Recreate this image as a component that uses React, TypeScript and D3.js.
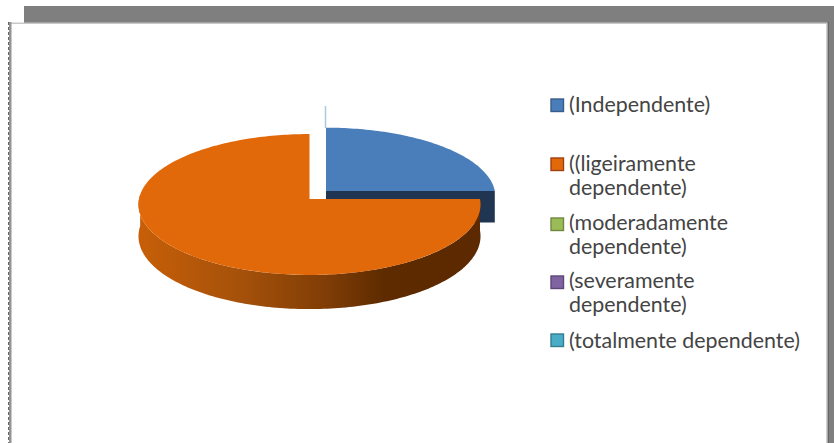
import React from "react";
import * as d3 from "d3";

const categories = [
  ["(Independente)"],
  ["((ligeiramente", "dependente)"],
  ["(moderadamente", "dependente)"],
  ["(severamente", "dependente)"],
  ["(totalmente dependente)"],
];
const shares = [25, 75, 0, 0, 0];
const fills = ["#4A7EBB", "#E2690A", "#9BBB59", "#8064A2", "#4BACC6"];
const borders = ["#385D8A", "#A0400F", "#71893F", "#5C4776", "#357D91"];
const wallFill = "#1F3552";
const legendFirstBaselines = [112, 171, 230, 288, 348];
const legendBoxTops = [99, 158, 218, 276, 334];

const W = 834;
const H = 443;

// The disc is tilted away from the viewer, so rear points shrink a little.
const apex = { x: 309.5, y: 199 };
const radiusX = 170.5;
const radiusY = 70;
const tilt = 0.078;
const wallDepth = 31.5;
const lift: Record<number, { dx: number; dy: number; scaleX: number; scaleY: number }> = {
  0: { dx: 16.5, dy: -8, scaleX: 0.99, scaleY: 0.975 },
};
const noLift = { dx: 0, dy: 0, scaleX: 1, scaleY: 1 };

const slices = d3.pie<number>().sort(null).startAngle(0).endAngle(2 * Math.PI)(shares);

function rim(angle: number, sliceIndex: number, drop = 0): [number, number] {
  const o = lift[sliceIndex] ?? noLift;
  const u = Math.sin(angle);
  const v = Math.cos(angle);
  const w = 1 + tilt * v;
  const x = apex.x + o.dx + (radiusX * o.scaleX * u) / w;
  const y = apex.y + o.dy - (radiusY * o.scaleY * v) / w + drop / w;
  return [x, y];
}

const outline = d3.line<[number, number]>();

function sweep(a0: number, a1: number, sliceIndex: number, drop = 0): [number, number][] {
  const steps = Math.max(2, Math.ceil(Math.abs(a1 - a0) / 0.02));
  return d3.range(steps + 1).map((i) => rim(a0 + ((a1 - a0) * i) / steps, sliceIndex, drop));
}

function topFace(a0: number, a1: number, i: number): string {
  const o = lift[i] ?? noLift;
  const centre: [number, number] = [apex.x + o.dx, apex.y + o.dy];
  return outline([centre, ...sweep(a0, a1, i)]) + "Z";
}

// Outer wall along the part of the rim that faces the viewer.
function rimWall(a0: number, a1: number, i: number): string {
  return outline([...sweep(a0, a1, i), ...sweep(a1, a0, i, wallDepth)]) + "Z";
}

// Cut face along the radius at the given angle.
function cutWall(angle: number, i: number): string {
  const o = lift[i] ?? noLift;
  const cx = apex.x + o.dx;
  const cy = apex.y + o.dy;
  const edge = rim(angle, i);
  const low = rim(angle, i, wallDepth);
  return outline([[cx, cy], edge, low, [cx, cy + wallDepth]]) + "Z";
}

const [blue, orange] = slices;

export default function App() {
  return (
    <svg
      width={W}
      height={H}
      viewBox={`0 0 ${W} ${H}`}
      style={{ position: "fixed", left: 0, top: 0, background: "#fff", display: "block" }}
    >
      <defs>
        <linearGradient id="wallShade" gradientUnits="userSpaceOnUse" x1={138} x2={480} y1={0} y2={0}>
          <stop offset="0" stopColor="#C75F08" />
          <stop offset="0.3" stopColor="#A5510A" />
          <stop offset="0.55" stopColor="#803D06" />
          <stop offset="0.72" stopColor="#5E2B00" />
          <stop offset="1" stopColor="#5C2900" />
        </linearGradient>
      </defs>

      {/* frame behind the chart panel */}
      <rect x={24} y={6} width={810} height={17} fill="#7F7F7F" />
      <rect x={827} y={6} width={7} height={437} fill="#7F7F7F" />
      <rect x={826} y={23} width={1.5} height={420} fill="#D2D2D2" />
      <rect x={828} y={22} width={1} height={421} fill="#666" />
      <rect x={9} y={22.5} width={818} height={1.5} fill="#C8C8C8" />
      <rect x={9} y={22} width={2.5} height={421} fill="#949494" />
      <line x1={8.5} y1={22} x2={8.5} y2={443} stroke="#666" strokeDasharray="3 2" />

      {/* pie */}
      <line x1={325.5} y1={106} x2={325.5} y2={128} stroke="#A9CBD6" strokeWidth={1.5} />
      <path d={cutWall(blue.endAngle, 0)} fill={wallFill} />
      <path d={topFace(blue.startAngle, blue.endAngle, 0)} fill={fills[0]} />
      <path d={rimWall(orange.startAngle, Math.min(orange.endAngle, 1.52 * Math.PI), 1)} fill="url(#wallShade)" />
      <path d={topFace(orange.startAngle, orange.endAngle, 1)} fill={fills[1]} />

      {/* legend */}
      {categories.map((lines, i) => (
        <g key={i}>
          <rect
            x={551}
            y={legendBoxTops[i]}
            width={12.5}
            height={12.5}
            fill={fills[i]}
            stroke={borders[i]}
            strokeWidth={1.4}
          />
          <text fontFamily="Lato, Carlito, sans-serif" fontSize={21.4} fill="#444">
            {lines.map((line, j) => (
              <tspan key={j} x={569} y={legendFirstBaselines[i] + j * 24}>
                {line}
              </tspan>
            ))}
          </text>
        </g>
      ))}
    </svg>
  );
}
